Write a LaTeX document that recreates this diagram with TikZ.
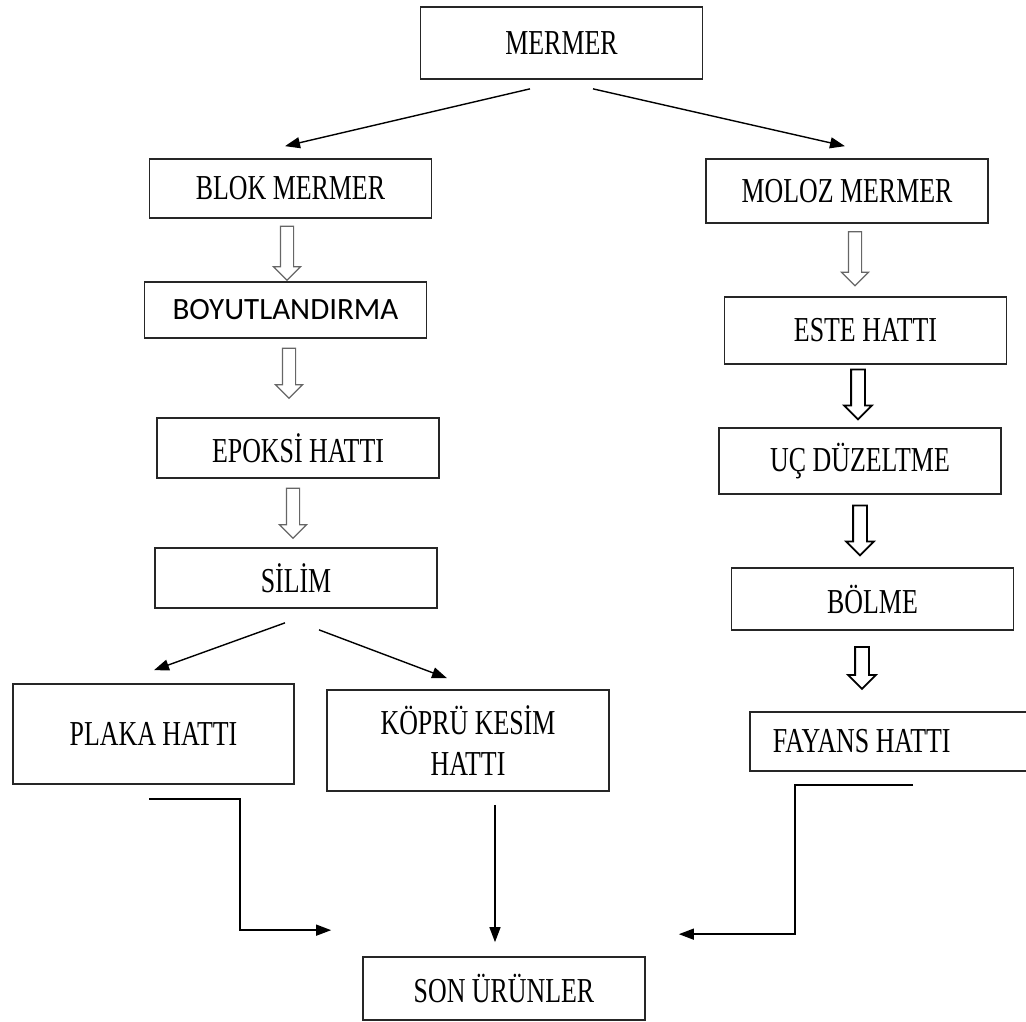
\documentclass[tikz,border=0pt]{standalone}
\usepackage{fontspec}
\setmainfont{Liberation Serif}[FakeStretch=0.74]
\newfontfamily\calfont{Carlito}
\usetikzlibrary{calc,arrows.meta,shapes.arrows}

\begin{document}
\begin{tikzpicture}[
        %We set the units (one pixel) and define some styles
        x=1pt, y=-1pt,
        box/.style={draw=black!85, line width=1.7pt, minimum width=282pt,
            inner sep=0pt, font=\fontsize{35}{41}\selectfont},
        flow/.style={line width=1.4pt, -{Triangle[length=15pt,width=11pt]}},
        elbow/.style={flow, rounded corners=0pt},
        hollow/.style={single arrow, draw=#1, rotate=-90, minimum height=54pt,
            minimum width=26pt, inner sep=6pt, single arrow head extend=7pt,
            single arrow head indent=0pt},
        hollow/.default=black!60,
        every node/.style={color=black}
]
\useasboundingbox (0,0) rectangle (1026,1021);

% boxes of the left branch
\node[box, minimum height=72pt] (mermer) at (561.5,43) {MERMER};
\node[box, minimum height=59pt] (blok) at (290.5,188.5) {BLOK MERMER};
\node[box, minimum height=56pt, font=\calfont\fontsize{31}{37}\selectfont] (boyut) at (285.5,310) {BOYUTLANDIRMA};
\node[box, minimum height=60pt] (epoksi) at (298,448) {EPOKSİ HATTI};
\node[box, minimum height=60pt] (silim) at (296,578) {SİLİM};
\node[box, minimum width=281pt, minimum height=100pt] (plaka) at (153.5,734) {PLAKA HATTI};
\node[box, minimum height=101pt, align=center] (kopru) at (468,740.5) {KÖPRÜ KESİM\\HATTI};

% boxes of the right branch
\node[box, minimum height=64pt] (moloz) at (847,191) {MOLOZ MERMER};
\node[box, minimum height=67pt] (este) at (865.5,330.5) {ESTE HATTI};
\node[box, minimum height=66pt] (uc) at (860,461) {UÇ DÜZELTME};
\node[box, minimum height=62pt] (bolme) at (872.5,599) {BÖLME};
\node[box, anchor=west, minimum height=59pt, inner xsep=23pt] (fayans) at (749,741.5) {\makebox[276pt][l]{FAYANS HATTI}};

% the end
\node[box, minimum height=63pt] (son) at (504,988.5) {SON ÜRÜNLER};

% hollow arrows
\node[hollow, line width=1.2pt] (a1) at (287,250) {};
\node[hollow, line width=1.2pt, minimum height=50pt] (a2) at (289,370) {};
\node[hollow, line width=1.2pt, minimum height=50pt] (a3) at (293,510) {};
\node[hollow, line width=1.2pt] (b1) at (855,255.5) {};
\node[hollow=black, line width=1.8pt, minimum height=50pt] (b2) at (858,391) {};
\node[hollow=black, line width=1.8pt, minimum height=50pt] (b3) at (860,527) {};
\node[hollow=black, line width=1.8pt, minimum height=42pt] (b4) at (862,664.5) {};

% split arrows
\draw[flow] ($(mermer.south)+(-31.5,9)$) -- ($(blok.north)+(-5.5,-12)$);
\draw[flow] ($(mermer.south)+(31.5,9)$) -- ($(moloz.north)+(-2,-12)$);
\draw[flow] ($(silim.south)+(-11,14)$) -- ($(plaka.north)+(0.5,-13)$);
\draw[flow] ($(silim.south)+(23,21)$) -- ($(kopru.north)+(-21,-11)$);

% joining arrows
\draw[elbow] ($(plaka.south)+(-4.5,14)$) -| ($(son.north west)+(-122,-26)$) -- ($(son.north west)+(-31,-26)$);
\draw[flow] ($(kopru.south)+(27,13)$) -- ($(son.north)+(-9,-14)$);
\draw[elbow] ($(fayans.south west)+(164,13)$) -| ($(son.north east)+(149,-22)$) -- ($(son.north east)+(33,-22)$);
\end{tikzpicture}
\end{document}
